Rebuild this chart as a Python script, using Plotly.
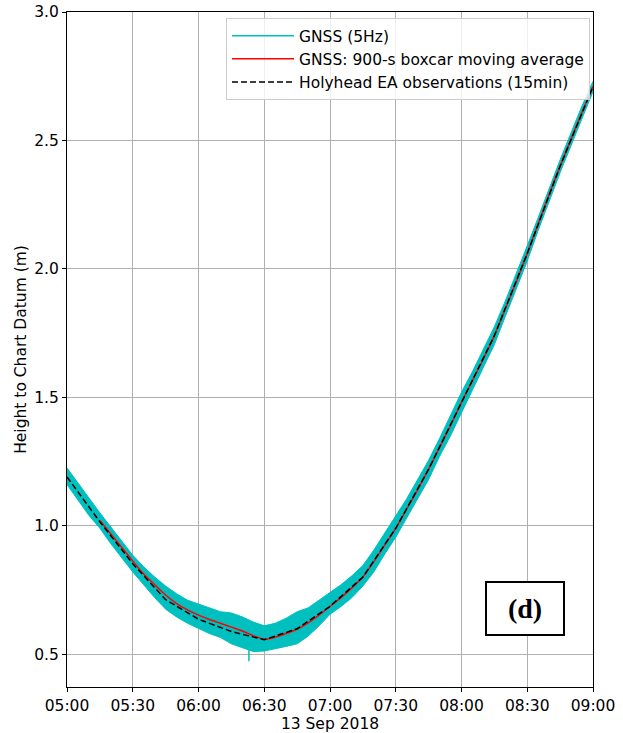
import plotly.graph_objects as go

# ---------------- data ----------------
day = "2018-09-13 "
env_times = ["05:00", "05:05", "05:10", "05:15", "05:20", "05:25", "05:30", "05:35", "05:40", "05:45",
             "05:50", "05:55", "06:00", "06:05", "06:10", "06:15", "06:20", "06:25", "06:30", "06:35",
             "06:40", "06:45", "06:50", "06:55", "07:00", "07:05", "07:10", "07:15", "07:20", "07:25",
             "07:30", "07:35", "07:40", "07:45", "07:50", "07:55", "08:00", "08:05", "08:10", "08:15",
             "08:20", "08:25", "08:30", "08:35", "08:40", "08:45", "08:50", "08:55", "09:00"]
# GNSS 5 Hz noise envelope (upper / lower)
gnss_upper = [1.225, 1.165, 1.105, 1.05, 0.995, 0.94, 0.885, 0.84, 0.80, 0.765,
              0.735, 0.71, 0.695, 0.68, 0.665, 0.66, 0.645, 0.625, 0.61, 0.62,
              0.64, 0.665, 0.68, 0.71, 0.74, 0.77, 0.805, 0.845, 0.905, 0.97,
              1.035, 1.105, 1.18, 1.255, 1.34, 1.43, 1.52, 1.60, 1.685, 1.775,
              1.875, 1.98, 2.09, 2.20, 2.315, 2.425, 2.53, 2.635, 2.73]
gnss_lower = [1.16, 1.10, 1.04, 0.99, 0.93, 0.875, 0.82, 0.77, 0.72, 0.675,
              0.645, 0.62, 0.60, 0.58, 0.565, 0.54, 0.525, 0.51, 0.512, 0.52,
              0.53, 0.54, 0.57, 0.61, 0.655, 0.685, 0.72, 0.765, 0.82, 0.89,
              0.955, 1.03, 1.105, 1.18, 1.27, 1.35, 1.44, 1.53, 1.615, 1.705,
              1.815, 1.92, 2.03, 2.15, 2.265, 2.375, 2.48, 2.585, 2.69]
spike_times = ["06:23", "06:23"]
spike_vals = [0.52, 0.472]

avg_times = env_times[3:]
avg_vals = [1.02, 0.968, 0.915, 0.862, 0.812, 0.77, 0.73, 0.697, 0.672, 0.652,
            0.635, 0.62, 0.605, 0.59, 0.572, 0.558, 0.566, 0.58, 0.597, 0.622,
            0.652, 0.686, 0.72, 0.758, 0.80, 0.86, 0.925, 0.99, 1.065, 1.14,
            1.22, 1.305, 1.39, 1.48, 1.565, 1.65, 1.74, 1.845, 1.95, 2.06,
            2.175, 2.29, 2.40, 2.505, 2.61, 2.71]

obs_times = ["05:00", "05:15", "05:30", "05:45", "06:00", "06:15", "06:30", "06:45", "07:00",
             "07:15", "07:30", "07:45", "08:00", "08:15", "08:30", "08:45", "09:00"]
obs_vals = [1.19, 1.015, 0.852, 0.712, 0.636, 0.588, 0.556, 0.599, 0.686,
            0.80, 0.99, 1.22, 1.48, 1.74, 2.06, 2.40, 2.71]

y_ticks = [0.5, 1.0, 1.5, 2.0, 2.5, 3.0]

def ts(lst):
    return [day + t + ":00" for t in lst]

CYAN = "#00BFBF"
FONT = "DejaVu Sans"
FS = 15.5

fig = go.Figure()
fig.add_trace(go.Scatter(x=ts(env_times), y=gnss_lower, mode="lines",
                         line=dict(color=CYAN, width=1), showlegend=False, hoverinfo="skip"))
fig.add_trace(go.Scatter(x=ts(env_times), y=gnss_upper, mode="lines", fill="tonexty",
                         fillcolor=CYAN, line=dict(color=CYAN, width=1), showlegend=False,
                         hoverinfo="skip"))
fig.add_trace(go.Scatter(x=ts(spike_times), y=spike_vals, mode="lines",
                         line=dict(color=CYAN, width=1.5), name="GNSS (5Hz)",
                         legendgroup="a"))
fig.add_trace(go.Scatter(x=ts(avg_times), y=avg_vals, mode="lines",
                         line=dict(color="#FF0000", width=1.5, shape="spline", smoothing=0.6),
                         name="GNSS: 900-s boxcar moving average", legendgroup="b"))
fig.add_trace(go.Scatter(x=ts(obs_times), y=obs_vals, mode="lines",
                         line=dict(color="black", width=1.5, dash="6px,3px"),
                         name="Holyhead EA observations (15min)", legendgroup="c"))

axis_common = dict(showline=True, linecolor="black", linewidth=1, mirror=True,
                   ticks="outside", ticklen=4, tickcolor="black", tickwidth=1,
                   showgrid=True, gridcolor="#b0b0b0", gridwidth=0.8, zeroline=False,
                   tickfont=dict(family=FONT, size=FS, color="black"))

fig.update_xaxes(range=[day + "05:00:00", day + "09:00:00"], dtick=1800000,
                 tickformat="%H:%M", title=dict(text="13 Sep 2018", standoff=0,
                 font=dict(family=FONT, size=FS, color="black")), **axis_common)
fig.update_yaxes(range=[0.372, 3.0], tickvals=y_ticks, tickformat=".1f",
                 title=dict(text="Height to Chart Datum (m)", standoff=3,
                 font=dict(family=FONT, size=FS, color="black")), **axis_common)

fig.add_annotation(xref="paper", yref="paper", x=0.871, y=0.117, text="<b>(d)</b>",
                   showarrow=False, font=dict(family="Liberation Serif", size=28, color="black"),
                   bordercolor="black", borderwidth=2, borderpad=0, bgcolor="white",
                   width=76, height=51, xanchor="center", yanchor="middle")

fig.update_layout(
    width=623, height=733,
    margin=dict(l=67, r=30, t=12, b=46, autoexpand=False),
    paper_bgcolor="white", plot_bgcolor="white",
    font=dict(family=FONT, size=FS, color="black"),
    legend=dict(x=0.9943, y=0.991, xanchor="right", yanchor="top",
                bgcolor="rgba(255,255,255,0.8)", bordercolor="#cccccc", borderwidth=1,
                font=dict(family=FONT, size=FS, color="black"), tracegroupgap=0,
                itemwidth=62),
)

fig.write_html("out.html")
